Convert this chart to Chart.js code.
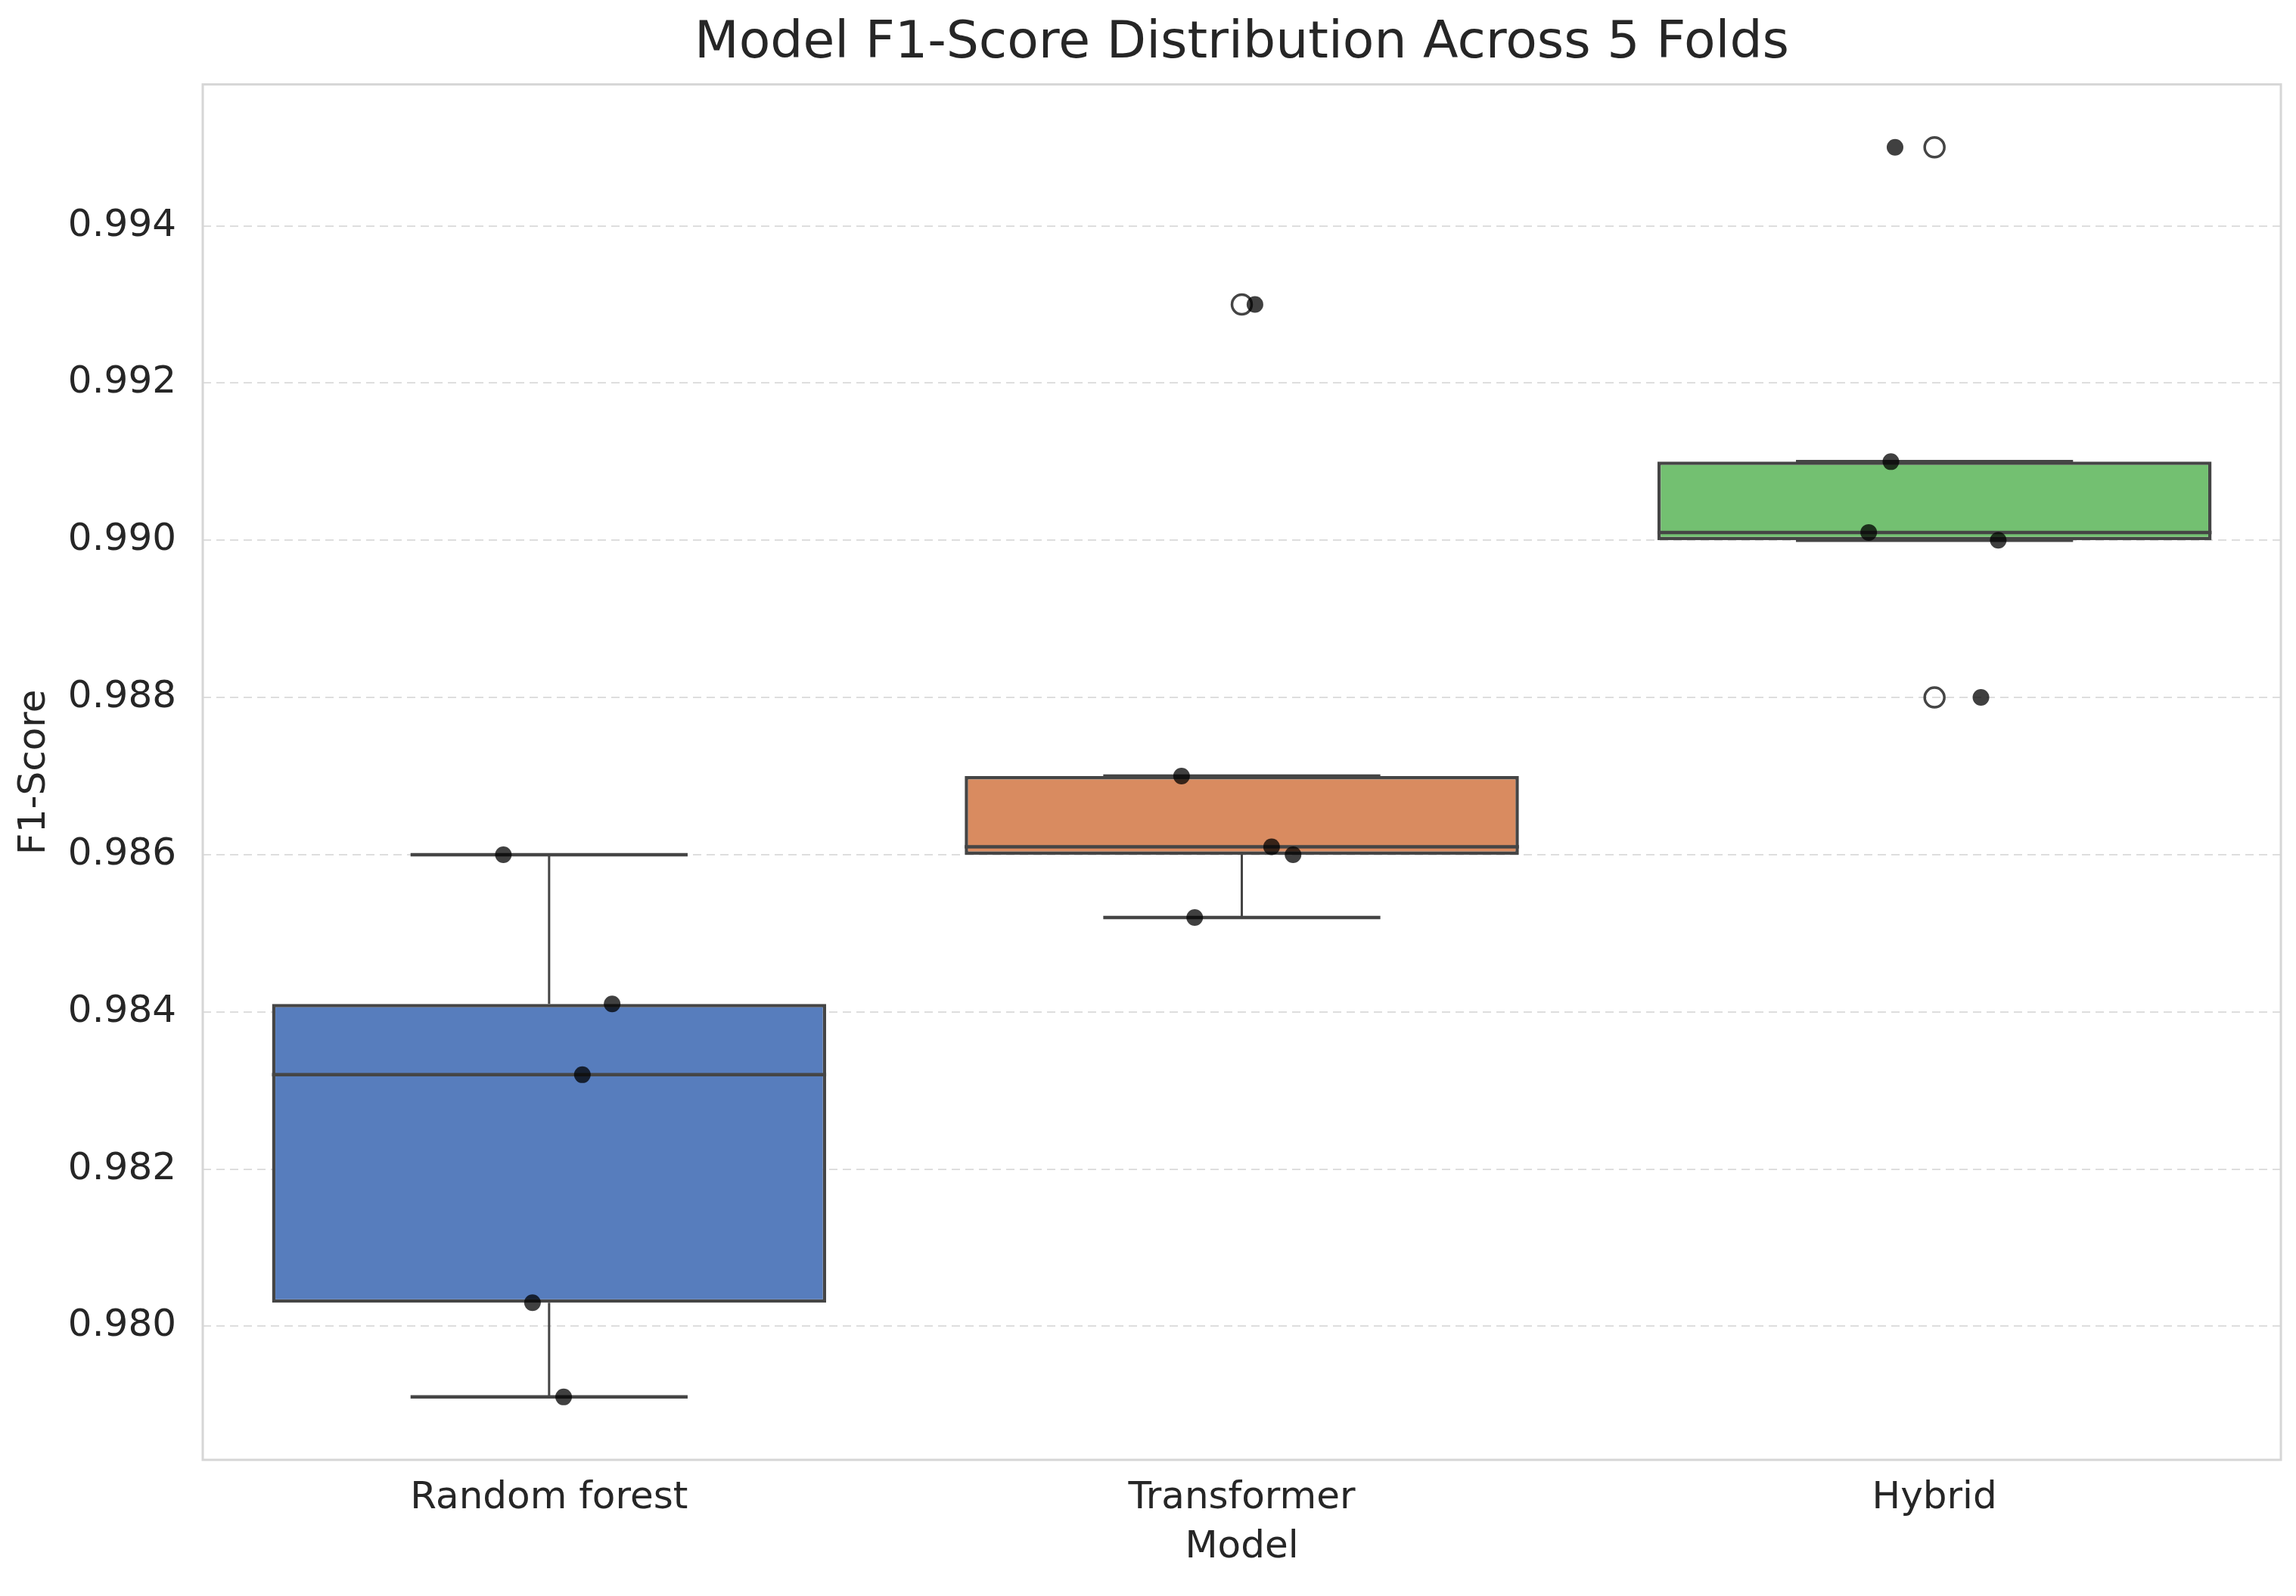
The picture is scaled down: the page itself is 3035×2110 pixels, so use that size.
<!DOCTYPE html>
<html>
<head>
<meta charset="utf-8">
<title>Model F1-Score Distribution Across 5 Folds</title>
<script src="https://cdn.jsdelivr.net/npm/chart.js@4"></script>
<style>
  html, body { margin: 0; padding: 0; background: #ffffff; }
  #wrap { width: 3035px; height: 2110px; }
</style>
</head>
<body>
<div id="wrap"><canvas id="f1Chart"></canvas></div>
<script>
// categories
const models = ["Random forest", "Transformer", "Hybrid"];

// box statistics
const q1 = [0.9803, 0.9860, 0.9900];
const medians = [0.9832, 0.9861, 0.9901];
const q3 = [0.9841, 0.9870, 0.9910];
const whiskerLow = [0.9791, 0.9852, 0.9900];
const whiskerHigh = [0.9860, 0.9870, 0.9910];
const outliers = [[], [0.9930], [0.9950, 0.9880]];

// fold scores (strip points) and their horizontal jitter
const foldScores = [
  [0.9860, 0.9841, 0.9832, 0.9803, 0.9791],
  [0.9870, 0.9861, 0.9860, 0.9852, 0.9930],
  [0.9950, 0.9910, 0.9901, 0.9900, 0.9880],
];
const foldJitter = [
  [-0.066, 0.091, 0.048, -0.024, 0.021],
  [-0.087, 0.043, 0.074, -0.068, 0.019],
  [-0.057, -0.063, -0.095, 0.092, 0.067],
];

const yTicks = [0.980, 0.982, 0.984, 0.986, 0.988, 0.990, 0.992, 0.994];
const boxColors = ["#577dbd", "#d98b60", "#73c071"];

const lineColor = "#454545";
const textColor = "#262626";
const fontFamily = "'DejaVu Sans', sans-serif";

// median lines and whisker caps (null breaks the line between pieces)
var medianCaps = [];
var whiskers = [];
models.forEach((m, i) => {
  medianCaps.push({ x: i - 0.4, y: medians[i] }, { x: i + 0.4, y: medians[i] }, { x: i, y: null });
  medianCaps.push({ x: i - 0.2, y: whiskerHigh[i] }, { x: i + 0.2, y: whiskerHigh[i] }, { x: i, y: null });
  medianCaps.push({ x: i - 0.2, y: whiskerLow[i] }, { x: i + 0.2, y: whiskerLow[i] }, { x: i, y: null });
  whiskers.push({ x: i, y: q3[i] }, { x: i, y: whiskerHigh[i] }, { x: i, y: null });
  whiskers.push({ x: i, y: q1[i] }, { x: i, y: whiskerLow[i] }, { x: i, y: null });
});

var outlierPoints = [];
outliers.forEach((list, i) => {
  list.forEach((v) => outlierPoints.push({ x: i, y: v }));
});

var stripPoints = [];
foldScores.forEach((list, i) => {
  list.forEach((v, j) => stripPoints.push({ x: i + foldJitter[i][j], y: v }));
});

// light grey frame around the plot area, like the seaborn whitegrid spines
const framePlugin = {
  id: "frame",
  beforeDatasetsDraw(chart) {
    const a = chart.chartArea;
    const ctx = chart.ctx;
    ctx.save();
    ctx.strokeStyle = "#d6d6d6";
    ctx.lineWidth = 3;
    ctx.strokeRect(a.left, a.top, a.right - a.left, a.bottom - a.top);
    ctx.restore();
  },
};

const ctx = document.getElementById("f1Chart").getContext("2d");
const f1Chart = new Chart(ctx, {
  type: "bar",
  data: {
    labels: models,
    datasets: [
      {
        type: "scatter",
        label: "Folds",
        data: stripPoints,
        xAxisID: "x2",
        backgroundColor: "rgba(0, 0, 0, 0.75)",
        borderWidth: 0,
        pointRadius: 11,
        order: 0,
      },
      {
        type: "scatter",
        label: "Outliers",
        data: outlierPoints,
        xAxisID: "x2",
        backgroundColor: "rgba(255, 255, 255, 0)",
        borderColor: lineColor,
        borderWidth: 3.5,
        pointRadius: 13,
        order: 1,
      },
      {
        type: "line",
        label: "Median / caps",
        data: medianCaps,
        xAxisID: "x2",
        borderColor: lineColor,
        borderWidth: 4.5,
        pointRadius: 0,
        spanGaps: false,
        fill: false,
        order: 2,
      },
      {
        type: "line",
        label: "Whiskers",
        data: whiskers,
        xAxisID: "x2",
        borderColor: lineColor,
        borderWidth: 3,
        pointRadius: 0,
        spanGaps: false,
        fill: false,
        order: 2,
      },
      {
        type: "bar",
        label: "IQR",
        data: models.map((m, i) => [q1[i], q3[i]]),
        xAxisID: "x",
        backgroundColor: boxColors,
        borderColor: lineColor,
        borderWidth: 4.5,
        borderSkipped: false,
        grouped: false,
        barPercentage: 0.8,
        categoryPercentage: 1.0,
        order: 3,
      },
    ],
  },
  options: {
    responsive: true,
    maintainAspectRatio: false,
    devicePixelRatio: 1,
    animation: false,
    layout: { padding: { left: 0, right: 20, top: 0, bottom: 0 } },
    plugins: {
      legend: { display: false },
      tooltip: { enabled: false },
      title: {
        display: true,
        text: "Model F1-Score Distribution Across 5 Folds",
        fullSize: false,
        color: textColor,
        font: { family: fontFamily, size: 68, weight: "normal" },
        padding: { top: 18, bottom: 12 },
      },
    },
    scales: {
      x: {
        type: "category",
        offset: true,
        grid: { display: false, drawTicks: false },
        border: { display: false },
        ticks: {
          color: textColor,
          font: { family: fontFamily, size: 50 },
          padding: 21,
        },
        title: {
          display: true,
          text: "Model",
          color: textColor,
          font: { family: fontFamily, size: 50 },
          padding: { top: 5, bottom: 34 },
        },
        afterFit: (axis) => {
          axis.height = 180;
        },
      },
      x2: {
        type: "linear",
        display: false,
        offset: false,
        min: -0.5,
        max: 2.5,
      },
      y: {
        type: "linear",
        min: 0.9783,
        max: 0.9958,
        afterBuildTicks: (axis) => {
          axis.ticks = yTicks.map((v) => ({ value: v }));
        },
        grid: {
          color: "#dedede",
          lineWidth: 2,
          drawTicks: false,
        },
        border: { display: false, dash: [11, 7] },
        ticks: {
          color: textColor,
          font: { family: fontFamily, size: 50 },
          padding: 35,
          callback: (v) => Number(v).toFixed(3),
        },
        title: {
          display: true,
          text: "F1-Score",
          color: textColor,
          font: { family: fontFamily, size: 50 },
          padding: { top: 16, bottom: 0 },
        },
        afterFit: (axis) => {
          axis.width = 268;
        },
      },
    },
  },
  plugins: [framePlugin],
});
</script>
</body>
</html>
